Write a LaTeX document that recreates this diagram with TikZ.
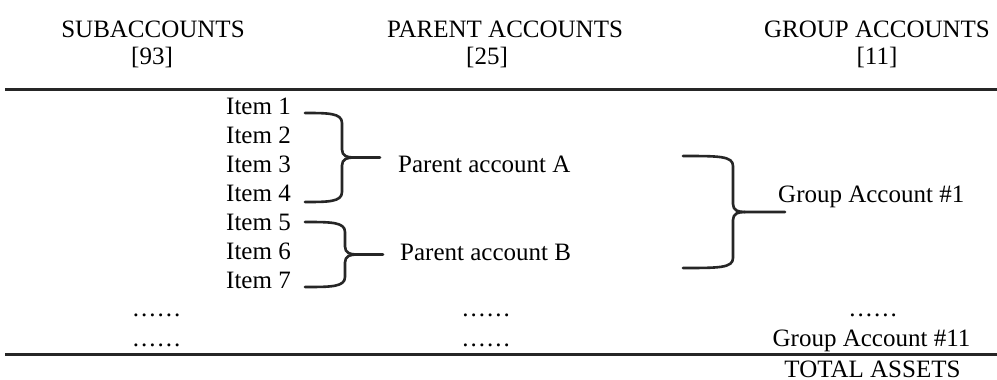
\documentclass[tikz,border=0pt]{standalone}
\usepackage{fontspec}
\setmainfont{Liberation Serif}
\newcommand\dotrow{.\kern2pt.\kern2pt.\kern2pt.\kern2pt.\kern2pt.}
\newcommand\accbrace[5]{%
  \pgfmathsetmacro\bym{(#4+#5)/2}%
  \draw[bracestyle] (#1,#4) .. controls ({#2-14},#4) and (#2,{#4}) .. (#2,{#4+10})
    -- (#2,{\bym-8}) .. controls (#2,{\bym-1.5}) and ({#2+5},\bym) .. ({#2+12},\bym) -- (#3,\bym);
  \draw[bracestyle] (#1,#5) .. controls ({#2-14},#5) and (#2,{#5}) .. (#2,{#5-10})
    -- (#2,{\bym+8}) .. controls (#2,{\bym+1.5}) and ({#2+5},\bym) .. ({#2+12},\bym);
}
\begin{document}
\begin{tikzpicture}[x=1pt,y=-1pt,
  txt/.style={inner sep=0pt,font=\fontsize{25}{29}\selectfont,text=black},
  rulestyle/.style={line width=3pt,draw=black!85},
  bracestyle/.style={line width=2.6pt,draw=black!85,line cap=round,line join=round}]
\useasboundingbox[fill=white] (0,0) rectangle (997,380);
% headers
\node[txt,anchor=base] (hsub) at (153,37) {SUBACCOUNTS};
\node[txt,anchor=base] (nsub) at (152,64) {[93]};
\node[txt,anchor=base] (hpar) at (505,37) {PARENT ACCOUNTS};
\node[txt,anchor=base] (npar) at (487,64) {[25]};
\node[txt,anchor=base] (hgrp) at (877,37) {GROUP ACCOUNTS};
\node[txt,anchor=base] (ngrp) at (877,64) {[11]};
% rules
\coordinate (r1l) at (5,89.5);
\coordinate (r1r) at (997,89.5);
\coordinate (r2l) at (5,354.5);
\coordinate (r2r) at (997,354.5);
\draw[rulestyle] (r1l) -- (r1r);
\draw[rulestyle] (r2l) -- (r2r);
% items
\foreach \i in {1,...,7}{
  \node[txt,anchor=base west] (item\i) at (226,{114+29*(\i-1)}) {Item \i};
}
% parent accounts
\node[txt,anchor=base west] (pa) at (398,172) {Parent account A};
\node[txt,anchor=base west] (pb) at (400,260) {Parent account B};
% group account
\node[txt,anchor=base west] (g1) at (778,202) {Group Account \#1};
% braces
\accbrace{305}{342}{380}{113}{202}
\accbrace{305}{345}{383}{222}{287}
\accbrace{683}{733}{785}{156}{268}
% dots
\node[txt,anchor=base] (d1) at (156.5,316) {\dotrow};
\node[txt,anchor=base] (d2) at (486,316) {\dotrow};
\node[txt,anchor=base] (d3) at (873,316) {\dotrow};
\node[txt,anchor=base] (d4) at (156.5,346) {\dotrow};
\node[txt,anchor=base] (d5) at (486,346) {\dotrow};
\node[txt,anchor=base] (g11) at (871.5,346.5) {Group Account \#11};
\node[txt,anchor=base,text depth=0pt] (tot) at (872.5,377) {TOTAL ASSETS};
\end{tikzpicture}
\end{document}
